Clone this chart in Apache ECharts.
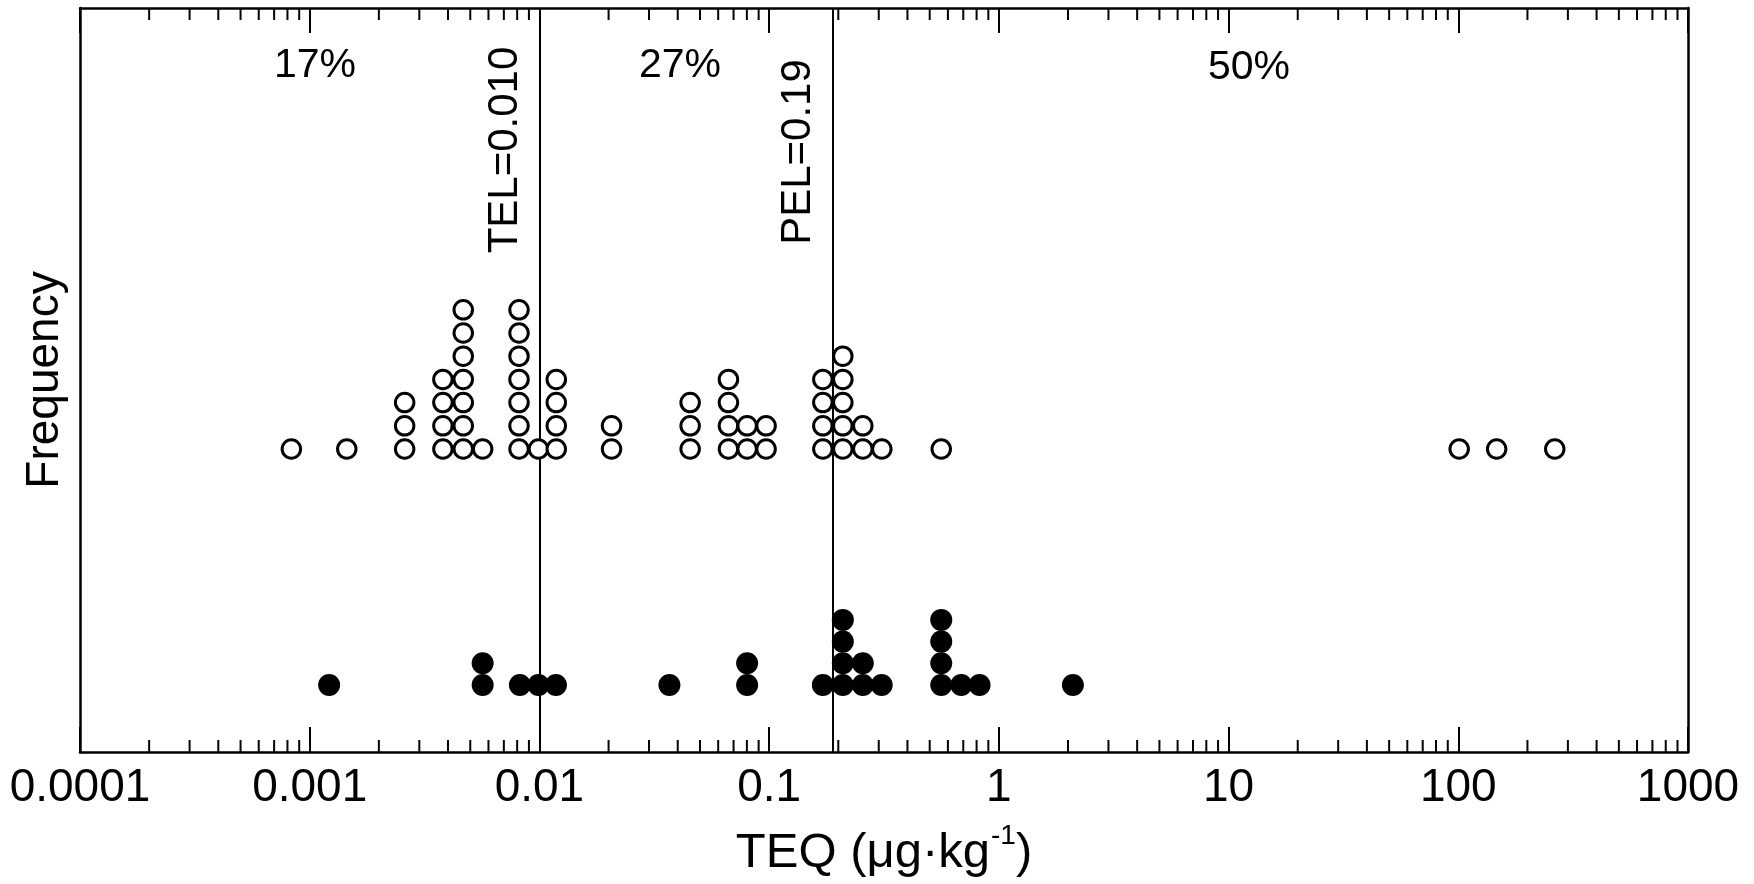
<!DOCTYPE html>
<html>
<head>
<meta charset="utf-8">
<script src="https://cdn.jsdelivr.net/npm/echarts@6/dist/echarts.min.js"></script>
<style>html,body{margin:0;padding:0;background:#fff;}#c{width:1754px;height:884px;}</style>
</head>
<body>
<div id="c"></div>
<script>
// ---- data ----
const openTEQ   = [0.000832, 0.00145, 0.00259, 0.0038, 0.00466, 0.00566, 0.00815, 0.0099, 0.01184, 0.0206, 0.0453, 0.0665, 0.0802, 0.097, 0.1713, 0.2093, 0.2557, 0.3094, 0.5613, 100.9, 146.9, 263];
const openCount = [1, 1, 3, 4, 7, 1, 7, 1, 4, 2, 3, 4, 2, 2, 4, 5, 2, 1, 1, 1, 1, 1];
const filledTEQ   = [0.001215, 0.00566, 0.00822, 0.0099, 0.0118, 0.0368, 0.0802, 0.1713, 0.2093, 0.2557, 0.309, 0.5613, 0.686, 0.824, 2.10];
const filledCount = [1, 2, 1, 1, 1, 1, 2, 1, 4, 2, 1, 4, 1, 1, 1];
const guideValues = [0.01, 0.19];
const guideLabels = ['TEL=0.010', 'PEL=0.19'];
const percentLabels = ['17%', '27%', '50%'];
const xTickLabels = ['0.0001', '0.001', '0.01', '0.1', '1', '10', '100', '1000'];
const xMin = 0.0001, xMax = 1000;

// ---- layout ----
const FONT = "'Liberation Sans', Arial, Helvetica, sans-serif";
const gridLeft = 80, gridRight = 66, gridTop = 8, gridBottomY = 752;
const openBaseY = 449, openRow = 23.2;
const filledBaseY = 685, filledRow = 21.7;
const openMin = 1 - (gridBottomY - openBaseY) / openRow;
const openMax = 1 + (openBaseY - gridTop) / openRow;
const filledMin = 1 - (gridBottomY - filledBaseY) / filledRow;
const filledMax = 1 + (filledBaseY - gridTop) / filledRow;

function stack(vals, counts) {
  const out = [];
  vals.forEach((v, i) => { for (let k = 1; k <= counts[i]; k++) out.push([v, k]); });
  return out;
}
const minorVals = [];
for (let e = -4; e < 3; e++) for (let m = 2; m <= 9; m++) minorVals.push([m * Math.pow(10, e), 0]);

const chart = echarts.init(document.getElementById('c'), null, {renderer: 'canvas'});
const axisLineStyle = {color: '#000', width: 2.5};
const opt = {
  animation: false,
  backgroundColor: '#fff',
  grid: {left: gridLeft, right: gridRight, top: gridTop, bottom: 884 - gridBottomY, containLabel: false},
  xAxis: [{
    type: 'log', logBase: 10, min: xMin, max: xMax, position: 'bottom',
    axisLine: {show: true, onZero: false, lineStyle: axisLineStyle},
    axisTick: {show: true, inside: true, length: 25, lineStyle: {color: '#000', width: 2}},
    axisLabel: {show: true, color: '#000', fontSize: 46, fontFamily: FONT, margin: 13,
      formatter: v => xTickLabels[Math.round(Math.log10(v)) + 4]},
    splitLine: {show: false}, minorTick: {show: false},
    name: '{a|TEQ (μg·kg}{s|-1}{a|)}', nameLocation: 'middle', nameGap: 70,
    nameTextStyle: {color: '#000', fontFamily: FONT, rich: {
      a: {fontSize: 49, fontFamily: FONT, color: '#000', lineHeight: 56, verticalAlign: 'bottom'},
      s: {fontSize: 28, fontFamily: FONT, color: '#000', lineHeight: 56, verticalAlign: 'top', padding: [0, 0, 0, 1]}
    }}
  }, {
    type: 'log', logBase: 10, min: xMin, max: xMax, position: 'top',
    axisLine: {show: true, onZero: false, lineStyle: axisLineStyle},
    axisTick: {show: true, inside: true, length: 25, lineStyle: {color: '#000', width: 2}},
    axisLabel: {show: false}, splitLine: {show: false}
  }],
  yAxis: [{
    type: 'value', min: openMin, max: openMax, position: 'left',
    axisLine: {show: true, onZero: false, lineStyle: axisLineStyle},
    axisTick: {show: false}, axisLabel: {show: false}, splitLine: {show: false},
    name: 'Frequency', nameLocation: 'middle', nameRotate: 90, nameGap: 12,
    nameTextStyle: {color: '#000', fontSize: 46, fontFamily: FONT, verticalAlign: 'bottom'}
  }, {
    type: 'value', min: filledMin, max: filledMax, position: 'right',
    axisLine: {show: true, onZero: false, lineStyle: axisLineStyle},
    axisTick: {show: false}, axisLabel: {show: false}, splitLine: {show: false}
  }],
  series: [{
    type: 'custom', name: 'minorTicks', xAxisIndex: 0, yAxisIndex: 0, silent: true, clip: false,
    data: minorVals,
    renderItem: function (params, api) {
      const x = api.coord([api.value(0), openMin])[0];
      const cs = params.coordSys;
      const yb = cs.y + cs.height, yt = cs.y;
      const st = {stroke: '#000', lineWidth: 2};
      return {type: 'group', children: [
        {type: 'line', shape: {x1: x, y1: yb, x2: x, y2: yb - 12}, style: st},
        {type: 'line', shape: {x1: x, y1: yt, x2: x, y2: yt + 12}, style: st}
      ]};
    }
  }, {
    type: 'scatter', name: 'open', xAxisIndex: 0, yAxisIndex: 0,
    data: stack(openTEQ, openCount),
    symbol: 'circle', symbolSize: 18.5,
    itemStyle: {color: '#fff', borderColor: '#000', borderWidth: 3, opacity: 1},
    z: 3,
    markLine: {
      silent: true, symbol: 'none', label: {show: false},
      lineStyle: {color: '#000', width: 2, type: 'solid'},
      data: guideValues.map(v => ({xAxis: v})),
      z: 2
    }
  }, {
    type: 'scatter', name: 'filled', xAxisIndex: 0, yAxisIndex: 1,
    data: stack(filledTEQ, filledCount),
    symbol: 'circle', symbolSize: 22,
    itemStyle: {color: '#000', opacity: 1},
    z: 4
  }]
};
chart.setOption(opt);

// annotations
const tx = guideValues.map(v => chart.convertToPixel({xAxisIndex: 0}, v));
const pctPos = [[315, 66], [680, 66], [1249, 68]];
const guideTextPos = [[tx[0] - 34, 150], [tx[1] - 35, 152]];
const graphics = [];
percentLabels.forEach((t, i) => graphics.push({
  type: 'text', x: pctPos[i][0], y: pctPos[i][1], z: 10,
  style: {text: t, fontSize: 41, fontFamily: FONT, fill: '#000', align: 'center', verticalAlign: 'middle'}
}));
guideLabels.forEach((t, i) => graphics.push({
  type: 'text', x: guideTextPos[i][0], y: guideTextPos[i][1], rotation: Math.PI / 2, z: 10,
  style: {text: t, fontSize: 42, fontFamily: FONT, fill: '#000', align: 'center', verticalAlign: 'middle'}
}));
chart.setOption({graphic: graphics});
</script>
</body>
</html>
